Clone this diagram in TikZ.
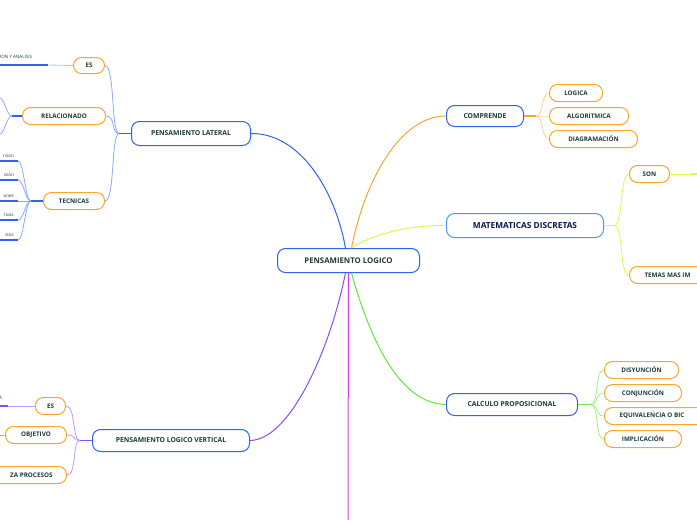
\documentclass[tikz,border=0pt]{standalone}
\usepackage{fontspec}
\setmainfont{Open Sans}
\definecolor{cblue}{HTML}{2D63F0}
\definecolor{corange}{HTML}{F9A62B}
\definecolor{cyel}{HTML}{E4F54A}
\definecolor{cgreen}{HTML}{66E43A}
\definecolor{cpurp}{HTML}{8A4DF2}
\definecolor{cmag}{HTML}{D43BE6}
\definecolor{ctext}{HTML}{1B3B34}
\definecolor{clblue}{HTML}{4A9BE6}
\tikzset{
 box/.style={draw,rounded corners=8pt,line width=1pt,font=\fontsize{6.3}{7}\selectfont\bfseries,text=ctext,inner sep=0pt},
 mainbox/.style={box,draw=cblue,font=\fontsize{6.8}{8}\selectfont\bfseries},
 leaf/.style={box,draw=corange},
 small/.style={font=\fontsize{4.5}{5}\selectfont,text=ctext,inner sep=0pt},
}
\newcommand{\bx}[6]{\node[#1,minimum width=#4pt,minimum height=#5pt,anchor=north west] (#2) at (#3) {#6};}
\begin{document}
\begin{tikzpicture}[x=1pt,y=-1pt]
\useasboundingbox (0,0) rectangle (697,520);
\clip (0,0) rectangle (697,520);
% nodes
\bx{mainbox,font=\fontsize{7.8}{9}\selectfont\bfseries}{root}{277,248}{142}{24}{PENSAMIENTO LOGICO}
\bx{mainbox}{lat}{131,121}{119}{24}{PENSAMIENTO LATERAL}
\bx{leaf}{es1}{73,57}{31}{16}{ES}
\bx{leaf}{rel}{22,107}{83}{17}{RELACIONADO}
\bx{leaf}{tec}{43,192}{61}{17}{TECNICAS}
\bx{mainbox}{comp}{446,105}{77}{21}{COMPRENDE}
\bx{leaf}{log}{549,84}{53}{17}{LOGICA}
\bx{leaf}{alg}{549,107}{79}{17}{ALGORITMICA}
\bx{leaf}{dia}{549,130}{88}{17}{DIAGRAMACIÓN}
\bx{box,draw=clblue,font=\fontsize{8.3}{9}\selectfont\bfseries,text=ctext!60!blue!60!black}{mat}{446,213}{157}{24}{MATEMATICAS DISCRETAS}
\bx{leaf}{son}{629,165}{40}{17}{SON}
\bx{leaf,align=left}{tem}{629,266}{100}{17}{\makebox[90pt][l]{\hspace*{10pt}TEMAS MAS IM}}
\bx{mainbox}{calc}{446,393}{131}{22}{CALCULO PROPOSICIONAL}
\bx{leaf}{dis}{604,361}{74}{17}{DISYUNCIÓN}
\bx{leaf}{con}{604,384}{77}{17}{CONJUNCIÓN}
\bx{leaf,align=left}{equ}{604,407}{120}{17}{\makebox[110pt][l]{\hspace*{10pt}EQUIVALENCIA O BIC}}
\bx{leaf}{imp}{604,430}{77}{17}{IMPLICACIÓN}
\bx{mainbox}{ver}{92,429}{157}{22}{PENSAMIENTO LOGICO VERTICAL}
\bx{leaf}{es2}{35,397}{30}{17}{ES}
\bx{leaf}{obj}{5,426}{61}{17}{OBJETIVO}
\bx{leaf,align=right}{ana}{-40,466}{106}{17}{\makebox[96pt][r]{ZA PROCESOS\hspace*{9pt}}}
% root branches
\draw[cblue,line width=1pt] (root.north) ++(-3,0) .. controls (335,190) and (300,133) .. (lat.east);
\draw[corange,line width=1pt] (root.north) ++(3,0) .. controls (365,180) and (400,116) .. (comp.west);
\draw[cyel,line width=1pt] (root.north) ++(3,0) .. controls (380,230) and (420,225) .. (mat.west);
\draw[cgreen,line width=1pt] (root.south) ++(3,0) .. controls (370,340) and (400,404) .. (calc.west);
\draw[cpurp,line width=1pt] (root.south) ++(-3,0) .. controls (330,350) and (290,440) .. (ver.east);
\draw[cmag,line width=1pt] (root.south) -- (348,520);
% lateral children
\draw[cblue,line width=1.5pt] (lat.west) -- ++(-12,0) coordinate (lj);
\foreach \c in {es1,rel,tec}{\draw[cblue!55,line width=0.8pt] (lj) .. controls +(-8,0) and +(10,0) .. (\c.east);}
\draw[cblue!40,line width=0.8pt] (es1.west) -- (48,65);
\draw[cblue,line width=1.2pt] (48,65) -- (0,65);
\node[small,anchor=west] (t1) at (0,57) {ION Y ANALISIS};
\draw[cblue,line width=1.5pt] (rel.west) -- ++(-10,0) coordinate (rj);
\draw[cblue!55,line width=0.8pt] (rj) .. controls +(-5,0) and +(4,0) .. (0,98);
\draw[cblue!55,line width=0.8pt] (rj) .. controls +(-5,0) and +(4,0) .. (0,134);
\draw[cblue,line width=1.5pt] (tec.west) -- ++(-12,0) coordinate (tj);
\foreach \y/\t in {161/rsion,180/isión,201/ones,220/tivas,240/stos}{
 \draw[cblue!55,line width=0.8pt] (tj) .. controls +(-6,0) and +(6,0) .. (18,\y);
 \draw[cblue,line width=1.2pt] (18,\y) -- (0,\y);
 \node[small,anchor=south east] at (14,\y-3) {\t};
}
% comprende children
\draw[corange,line width=1.5pt] (comp.east) -- ++(12,0) coordinate (cj);
\foreach \c in {log,alg,dia}{\draw[corange!50,line width=0.8pt] (cj) .. controls +(8,0) and +(-8,0) .. (\c.west);}
% mat children
\draw[cyel,line width=1.5pt] (mat.east) -- ++(10,0) coordinate (mj);
\foreach \c in {son,tem}{\draw[cyel,line width=0.8pt] (mj) .. controls +(10,0) and +(-10,0) .. (\c.west);}
\draw[cyel,line width=0.8pt] (son.east) -- (690,174);
\draw[cyel,line width=1.5pt] (690,174) -- (697,174);
% calc children
\draw[cgreen,line width=1.5pt] (calc.east) -- ++(12,0) coordinate (kj);
\foreach \c in {dis,con,equ,imp}{\draw[cgreen!60,line width=0.8pt] (kj) .. controls +(10,0) and +(-10,0) .. (\c.west);}
% vertical children
\draw[cpurp,line width=1.5pt] (ver.west) -- ++(-12,0) coordinate (vj);
\foreach \c in {es2,obj,ana}{\draw[cpurp!55,line width=0.8pt] (vj) .. controls +(-8,0) and +(10,0) .. (\c.east);}
\draw[cpurp!55,line width=0.8pt] (es2.west) -- (8,406);
\draw[cpurp,line width=1.2pt] (8,406) -- (0,406);
\node[small,anchor=west] (t2) at (-1,398) {A};
\draw[cpurp!55,line width=0.8pt] (obj.west) -- (0,435);
\end{tikzpicture}
\end{document}
